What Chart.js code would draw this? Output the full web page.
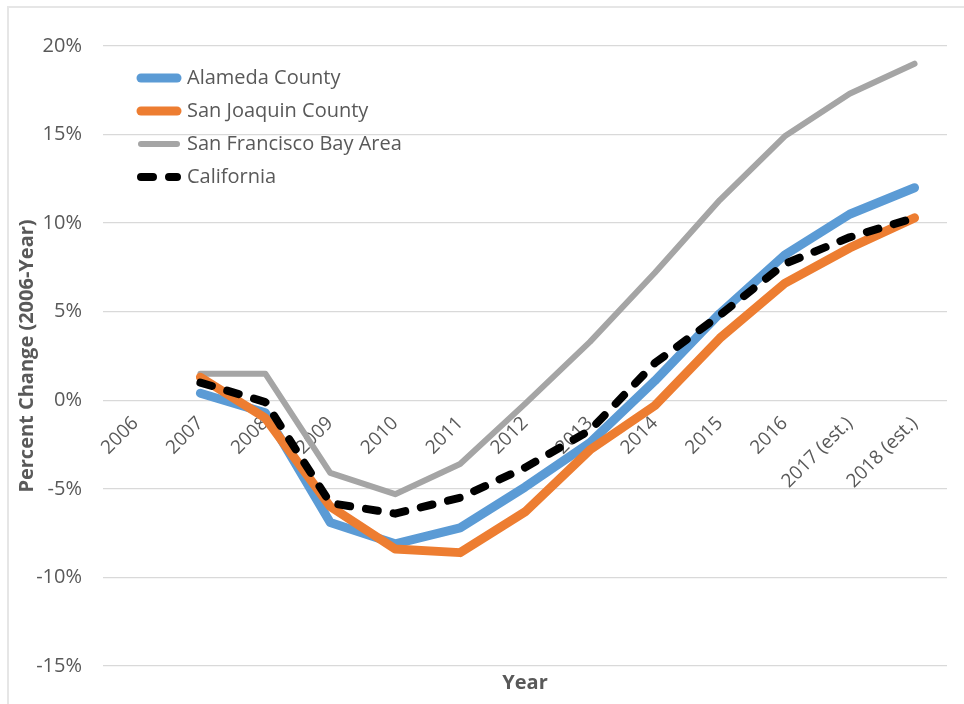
<!DOCTYPE html>
<html>
<head>
<meta charset="utf-8">
<title>Percent Change</title>
<script src="https://cdn.jsdelivr.net/npm/chart.js@4.4.1/dist/chart.umd.min.js"></script>
<style>
html,body{margin:0;padding:0;background:#fff;}
#wrap{position:relative;width:964px;height:704px;overflow:hidden;}
#frame{position:absolute;left:7px;top:6px;width:1000px;height:1000px;border:2px solid #e6e6e6;box-sizing:border-box;}
#c{position:absolute;left:0;top:0;}
</style>
</head>
<body>
<div id="wrap"><div id="frame"></div><canvas id="c" width="964" height="704"></canvas></div>
<script>
const years=['2006','2007','2008','2009','2010','2011','2012','2013','2014','2015','2016','2017 (est.)','2018 (est.)'];
const alameda=[null,0.4,-0.7,-6.9,-8.1,-7.2,-4.9,-2.4,1.1,4.9,8.2,10.5,12.0];
const sanJoaquin=[null,1.3,-1.0,-6.0,-8.4,-8.6,-6.3,-2.8,-0.3,3.5,6.6,8.6,10.3];
const bayArea=[null,1.5,1.5,-4.1,-5.3,-3.6,-0.2,3.3,7.2,11.3,14.9,17.3,19.0];
const california=[null,1.0,-0.1,-5.8,-6.4,-5.5,-3.8,-1.7,2.1,4.8,7.7,9.2,10.3];
const yTicks=[-15,-10,-5,0,5,10,15,20];

const FONT='"Open Sans", sans-serif';
const TXT='#595959';

function line(label,data,color,width,order,dash){
  return {label,data,borderColor:color,backgroundColor:color,borderWidth:width,order,
    borderDash:dash||[],borderCapStyle:'round',borderJoinStyle:'round',
    pointRadius:0,pointHoverRadius:0,fill:false,tension:0};
}

// legend sits inside the plot, top-left
const legendSpot={
  id:'legendSpot',
  afterLayout(chart){
    const lg=chart.legend; if(!lg) return;
    const w=lg.width,h=lg.height;
    lg.left=chart.chartArea.left+25; lg.top=chart.chartArea.top+9;
    lg.right=lg.left+w; lg.bottom=lg.top+h;
  }
};

function legendItems(chart){
  const base=Chart.defaults.plugins.legend.labels.generateLabels(chart);
  return base.map(it=>{
    const ds=chart.data.datasets[it.datasetIndex];
    return Object.assign(it,{lineCap:'round',lineDash:ds.borderDash,lineWidth:ds.borderWidth});
  });
}

new Chart(document.getElementById('c'),{
  type:'line',
  data:{labels:years,datasets:[
    line('Alameda County',alameda,'#5B9BD5',9,2),
    line('San Joaquin County',sanJoaquin,'#ED7D31',9,1),
    line('San Francisco Bay Area',bayArea,'#A5A5A5',6,3),
    line('California',california,'#000000',8,0,[12,16])
  ]},
  options:{
    responsive:false,animation:false,
    layout:{padding:{top:46,right:17,left:0,bottom:0}},
    scales:{
      x:{type:'category',offset:true,position:{y:0},
        grid:{display:false},border:{display:false},
        ticks:{color:TXT,font:{family:FONT,size:19},maxRotation:45,minRotation:45,autoSkip:false,padding:4},
        afterFit:s=>{s.height=0;}},
      y:{min:-15,max:20,
        afterBuildTicks:s=>{s.ticks=yTicks.map(v=>({value:v}));},
        afterFit:s=>{s.width=103;},
        grid:{color:'#d9d9d9',lineWidth:1.3,drawTicks:false},border:{display:false},
        ticks:{color:TXT,font:{family:FONT,size:20},padding:21,callback:v=>v+'%'},
        title:{display:true,text:'Percent Change (2006-Year)',color:TXT,font:{family:FONT,size:20,weight:'bold'},padding:{top:15,bottom:0}}}
    },
    plugins:{
      legend:{position:'chartArea',align:'start',
        labels:{usePointStyle:true,pointStyle:'line',pointStyleWidth:36,padding:13,color:TXT,font:{family:FONT,size:20},
          generateLabels:legendItems,
          sort:(a,b)=>a.datasetIndex-b.datasetIndex}},
      title:{display:true,position:'bottom',fullSize:false,text:'Year',color:TXT,
        font:{family:FONT,size:20,weight:'bold'},padding:{top:5,bottom:9}},
      tooltip:{enabled:false}
    }
  },
  plugins:[legendSpot]
});
</script>
</body>
</html>
